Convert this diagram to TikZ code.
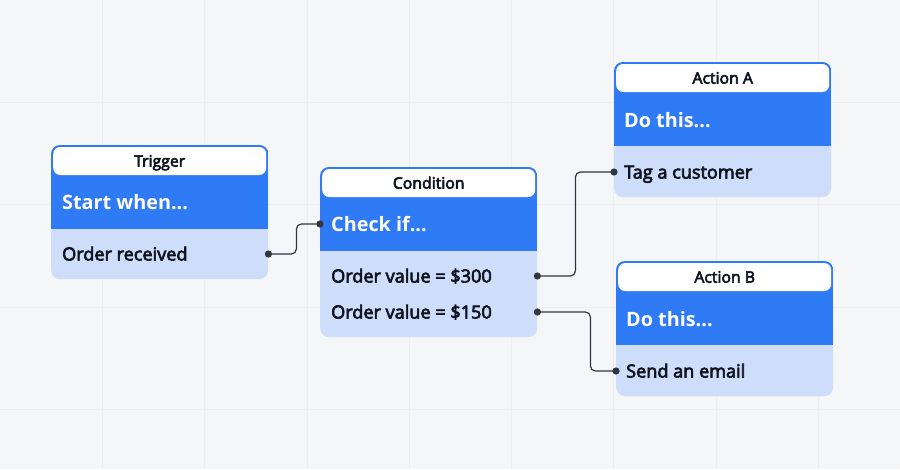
\documentclass[tikz,border=0pt]{standalone}
\usepackage{fontspec}
\setmainfont{Open Sans}
\newfontfamily\medfont{Open Sans}[FakeBold=3.6]
\usetikzlibrary{calc}
\definecolor{bg}{HTML}{F5F6F8}
\definecolor{gridc}{HTML}{ECEEF1}
\definecolor{cblue}{HTML}{2F7AF5}
\definecolor{clight}{HTML}{CDDDFA}
\definecolor{ink}{HTML}{0F1420}
\definecolor{wire}{HTML}{30363F}
\begin{document}
\begin{tikzpicture}[x=1pt,y=-1pt,
  card/.style={rectangle, rounded corners=9pt, fill=clight, minimum width=217pt, inner sep=0pt, anchor=north west},
  hdr/.style={rectangle, rounded corners=7pt, fill=white, minimum width=213pt, minimum height=28pt, inner sep=0pt,
    text height=11.3pt, text depth=0pt, font=\medfont\fontsize{15.8}{17}\selectfont, text=ink},
  headtxt/.style={anchor=west, inner sep=0pt, text height=14.3pt, text depth=0pt,
    font=\bfseries\fontsize{19.8}{22}\selectfont, text=white},
  rowtxt/.style={anchor=west, inner sep=0pt, text height=13pt, text depth=0pt,
    font=\medfont\fontsize{18.1}{20}\selectfont, text=ink},
  wire/.style={draw=wire, line width=1.2pt, rounded corners=5pt},
  port/.style={fill=wire}
]
\useasboundingbox (0,0) rectangle (900,469);
\fill[bg] (0,0) rectangle (900,469);
\foreach \x in {102.3,204.6,306.9,409.2,511.5,613.8,716.1,818.4}
  \draw[gridc, line width=0.8pt] (\x,0) -- (\x,469);
\foreach \y in {102.3,204.6,306.9,409.2}
  \draw[gridc, line width=0.8pt] (0,\y) -- (900,\y);

% Cards
\node[card, minimum height=134pt] (trig) at (51,145) {};
\node[card, minimum height=170pt] (cond) at (320,167) {};
\node[card, minimum height=135pt] (actA) at (614,62) {};
\node[card, minimum height=135pt] (actB) at (616,261) {};

\foreach \c in {trig,cond,actA,actB}{
  \begin{scope}
    \clip[rounded corners=9pt] (\c.north west) rectangle (\c.south east);
    \fill[cblue] (\c.north west) rectangle ($(\c.north east)+(0,83.5)$);
  \end{scope}
}

% Headers
\node[hdr] (trigT) at ($(trig.north)+(0,16)$) {Trigger};
\node[hdr] (condT) at ($(cond.north)+(0,16)$) {Condition};
\node[hdr] (actAT) at ($(actA.north)+(0,16)$) {Action A};
\node[hdr] (actBT) at ($(actB.north)+(0,16)$) {Action B};

% Blue band texts
\node[headtxt] (trigH) at ($(trig.north west)+(11,57)$) {Start when...};
\node[headtxt] (condH) at ($(cond.north west)+(11,57)$) {Check if...};
\node[headtxt] (actAH) at ($(actA.north west)+(10,58)$) {Do this...};
\node[headtxt] (actBH) at ($(actB.north west)+(10,58)$) {Do this...};

% Rows
\node[rowtxt] (trigR1) at ($(trig.north west)+(11,109)$) {Order received};
\node[rowtxt] (condR1) at ($(cond.north west)+(11,109)$) {Order value = \$300};
\node[rowtxt] (condR2) at ($(cond.north west)+(11,145)$) {Order value = \$150};
\node[rowtxt] (actAR1) at ($(actA.north west)+(10,110)$) {Tag a customer};
\node[rowtxt] (actBR1) at ($(actB.north west)+(10,110)$) {Send an email};

% Ports
\coordinate (o1) at (trig.east |- trigR1.west);
\coordinate (i1) at (cond.west |- condH.west);
\coordinate (o2) at (cond.east |- condR1.west);
\coordinate (i2) at (actA.west |- actAR1.west);
\coordinate (o3) at (cond.east |- condR2.west);
\coordinate (i3) at (actB.west |- actBR1.west);

% Connectors
\draw[wire] (o1) -- ++(28,0) |- (i1);
\draw[wire] (o2) -- ++(38,0) |- (i2);
\draw[wire] (o3) -- ++(53,0) |- (i3);

\foreach \p in {o1,i1,o2,i2,o3,i3}
  \fill[port] (\p) circle (3.6pt);
\end{tikzpicture}
\end{document}
